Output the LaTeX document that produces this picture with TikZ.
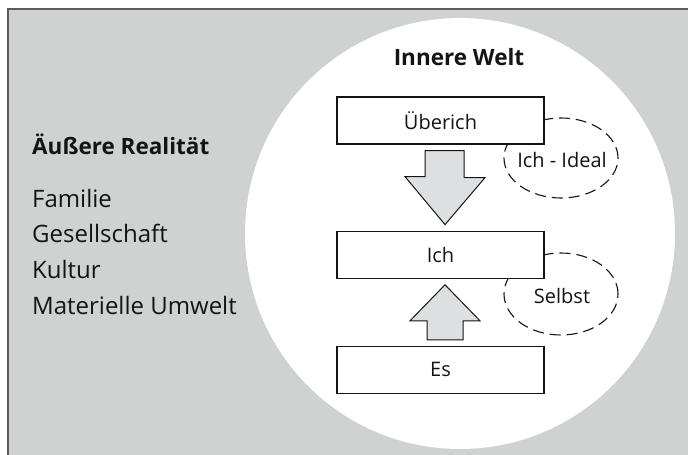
\documentclass[tikz,border=0pt]{standalone}
\usepackage{fontspec}
\setmainfont{Open Sans}
\usetikzlibrary{calc,positioning,shapes.geometric}
\definecolor{RealityGray}{HTML}{D0D1D1}
\definecolor{FrameGray}{HTML}{5C5C5C}
\definecolor{ArrowGray}{HTML}{DEDFE0}
\definecolor{InkGray}{HTML}{141414}
\begin{document}
\begin{tikzpicture}[
  x=1pt, y=-1pt,
  outertitle/.style={inner sep=0pt, anchor=base west, text=InkGray, font=\fontsize{22.5}{26}\selectfont\bfseries},
  outeritem/.style={inner sep=0pt, anchor=base west, text=InkGray, font=\fontsize{24}{28}\selectfont},
  innertitle/.style={inner sep=0pt, anchor=base, text=InkGray, font=\fontsize{22.5}{26}\selectfont\bfseries},
  instancebox/.style={
    draw=InkGray,
    fill=white,
    line width=1.2pt,
    minimum width=207pt,
    minimum height=47pt,
    inner sep=0pt,
    text=InkGray,
    font=\fontsize{20}{22}\selectfont
  },
  ring/.style={
    ellipse,
    draw=InkGray,
    line width=1.1pt,
    dash pattern=on 11pt off 6pt,
    inner sep=0pt
  },
  ringtext/.style={inner sep=0pt, text=InkGray, font=\fontsize{20}{22}\selectfont},
  blockarrow/.style={draw=InkGray, fill=ArrowGray, line width=1pt, line join=miter}
]
\useasboundingbox (0,0) rectangle (688,455);
% outer reality and inner world
\fill[RealityGray] (8,9) rectangle (688,455);
\draw[FrameGray, line width=1.2pt] (8,455) -- (8,9) -- (688,9);
\fill[white] (460,233.5) ellipse [x radius=215, y radius=215.5];

\node[outertitle] (aussen) at (32,154) {Äußere Realität};
\foreach \entry [count=\i] in {Familie, Gesellschaft, Kultur, Materielle Umwelt}
  \node[outeritem] (item\i) at (32,{171.3+35.7*\i}) {\entry};

\node[innertitle] (innen) at (459,65) {Innere Welt};

% dashed rings sit behind the boxes
\node[ring, minimum width=114pt, minimum height=80pt] (ideal) at (561,158) {};
\node[ring, minimum width=114pt, minimum height=82pt] (selbst) at (561,294) {};
\node[ringtext] (idealtext) at ($(ideal.center)+(1,2)$) {Ich - Ideal};
\node[ringtext] (selbsttext) at ($(selbst.center)+(1,2)$) {Selbst};

\node[instancebox] (ueberich) at (440.5,120.5) {Überich};
\node[instancebox, below=86pt of ueberich] (ich) {Ich};
\node[instancebox, below=67pt of ich] (es) {Es};

\draw[blockarrow] ($(ueberich.south)+(-15.5,6)$) -- ++(39,0) -- ++(0,27) -- ++(21,0)
  -- ($(ich.north)+(4.5,-6)$) -- ++(-40,-48) -- ++(20,0) -- cycle;
\draw[blockarrow] ($(ich.south)+(4.5,6)$) -- ++(35,36) -- ++(-17,0)
  -- ($(es.north)+(22.5,-6)$) -- ++(-36,0) -- ++(0,-19) -- ++(-17,0) -- cycle;
\end{tikzpicture}
\end{document}
